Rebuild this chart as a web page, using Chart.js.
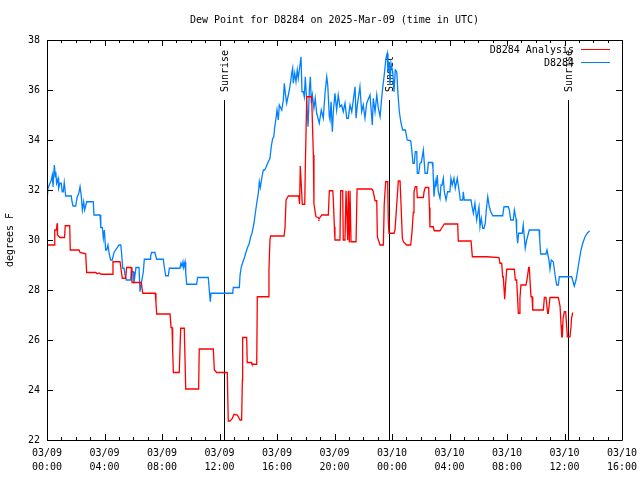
<!DOCTYPE html>
<html>
<head>
<meta charset="utf-8">
<title>Dew Point for D8284</title>
<script src="https://cdn.jsdelivr.net/npm/chart.js@4.4.1/dist/chart.umd.min.js"></script>
<style>
  body { margin: 0; background: #fff; }
  canvas { display: block; }
</style>
</head>
<body>
<canvas id="dew" width="640" height="480"></canvas>
<script>
// hours since 2025-03-09 00:00 UTC
var analysisHours = [0,0.49,0.54,0.66,0.70,0.73,0.90,1.22,1.27,1.58,1.62,2.23,2.30,2.69,2.76,3.39,3.48,3.62,3.78,4.54,4.59,5.08,5.15,5.24,5.47,5.54,5.86,5.91,6.56,6.66,7.53,7.58,7.63,8.56,8.63,8.70,8.74,8.79,9.20,9.30,9.55,9.65,10.55,10.59,11.57,11.64,11.81,12.54,12.61,12.73,12.87,13.01,13.24,13.43,13.54,13.59,13.61,13.89,13.93,14.21,14.26,14.59,14.63,15.40,15.44,15.51,15.56,16.49,16.56,16.63,16.79,17.51,17.57,17.62,17.69,17.76,17.93,17.97,18.07,18.41,18.53,18.57,18.71,18.87,18.92,19.11,19.57,19.64,19.88,19.92,19.99,20.03,20.38,20.43,20.57,20.61,20.73,20.80,20.85,20.92,20.96,21.03,21.08,21.15,21.50,21.57,22.59,22.68,22.82,22.94,22.98,23.17,23.40,23.46,23.56,23.70,23.74,23.79,24.14,24.21,24.44,24.56,24.63,24.72,24.79,25.02,25.30,25.39,25.48,25.53,25.62,25.72,25.76,26.18,26.23,26.32,26.55,26.60,26.64,26.87,26.94,27.34,27.48,27.64,28.57,28.61,29.50,29.59,30.59,31.44,31.51,31.63,31.70,31.74,31.84,31.90,31.98,32.51,32.58,32.67,32.79,32.86,32.90,32.97,33.32,33.39,33.51,33.55,33.60,33.67,33.74,33.79,34.53,34.60,34.71,34.83,34.87,34.99,35.57,35.69,35.76,35.81,35.85,35.90,35.99,36.08,36.20,36.38,36.45,36.49,36.57];
var analysisDew = [29.8,29.8,30.4,30.4,30.67,30.2,30.1,30.1,30.57,30.57,29.6,29.6,29.5,29.45,28.7,28.7,28.65,28.68,28.63,28.63,29.13,29.13,28.84,28.47,28.47,28.9,28.9,28.3,28.3,27.87,27.87,27.5,27.04,27.04,26.5,26.5,25.6,24.7,24.7,26.47,26.47,24.04,24.04,25.64,25.64,24.8,24.7,24.7,22.76,22.76,22.84,23.03,23.0,22.8,22.8,24.4,26.1,26.1,25.1,25.1,25.03,25.03,27.73,27.73,28.8,30.0,30.16,30.16,30.5,31.6,31.76,31.76,31.44,32.96,32.2,31.43,31.43,32.93,35.73,35.73,33.4,31.44,30.93,30.9,30.84,31.0,31.0,31.97,31.97,31.6,30.53,30.0,30.0,31.97,31.97,30.0,30.0,31.97,31.97,30.0,31.97,29.9,31.97,29.93,29.93,32.04,32.04,31.97,31.57,31.57,30.13,29.8,29.8,31.43,32.33,32.33,30.8,30.27,30.27,30.4,32.36,32.36,31.4,30.07,29.93,29.8,29.8,30.3,31.1,31.93,32.13,32.13,31.7,31.7,31.93,32.1,32.1,31.3,30.53,30.53,30.37,30.37,30.5,30.64,30.64,29.96,29.96,29.33,29.33,29.3,29.07,29.07,28.53,28.53,27.63,28.2,28.83,28.83,28.4,28.4,27.07,27.07,27.67,28.2,28.2,28.4,28.9,28.9,28.4,27.73,27.73,27.2,27.2,27.7,27.7,27.07,27.07,27.7,27.7,27.36,26.6,26.13,26.13,26.87,27.13,27.13,26.13,26.13,26.5,26.87,27.1];

var stationHours = [0.02,0.07,0.21,0.30,0.37,0.42,0.51,0.58,0.61,0.67,0.77,0.81,0.90,0.99,1.06,1.13,1.20,1.30,1.69,1.74,1.81,2.00,2.04,2.11,2.21,2.30,2.34,2.39,2.46,2.55,2.62,2.76,3.22,3.27,3.69,3.74,3.85,3.92,3.99,4.08,4.15,4.24,4.33,4.43,4.54,4.66,5.01,5.13,5.17,5.27,5.36,5.43,5.52,5.82,5.86,6.00,6.05,6.19,6.40,6.47,6.56,6.70,6.77,7.17,7.21,7.28,7.51,7.56,7.63,8.09,8.14,8.26,8.44,8.51,9.25,9.32,9.39,9.46,9.51,9.60,9.65,9.72,10.41,10.48,11.22,11.29,11.36,11.41,12.92,12.96,13.38,13.43,13.52,13.75,13.93,14.07,14.17,14.26,14.40,14.49,14.59,14.70,14.77,14.84,14.94,15.05,15.14,15.23,15.35,15.51,15.60,15.70,15.77,15.84,15.93,16.00,16.09,16.16,16.33,16.44,16.51,16.58,16.67,16.79,16.86,16.95,17.02,17.09,17.13,17.23,17.32,17.41,17.48,17.67,17.74,17.83,17.90,17.97,18.07,18.16,18.25,18.32,18.39,18.46,18.57,18.66,18.76,18.94,19.08,19.22,19.34,19.46,19.53,19.64,19.69,19.76,19.85,19.92,20.03,20.15,20.26,20.38,20.50,20.61,20.73,20.85,20.96,21.08,21.20,21.43,21.50,21.59,21.77,21.89,22.00,22.12,22.24,22.47,22.63,22.70,22.82,22.94,23.05,23.17,23.28,23.35,23.46,23.58,23.67,23.72,23.79,23.86,23.93,24.05,24.14,24.23,24.33,24.42,24.51,24.61,24.74,24.93,25.06,25.30,25.39,25.46,25.55,25.62,25.72,25.76,25.86,25.95,26.04,26.18,26.30,26.46,26.53,26.80,26.85,26.92,27.01,27.06,27.15,27.22,27.34,27.41,27.48,27.57,27.64,27.76,27.87,28.03,28.10,28.19,28.31,28.40,28.54,28.68,28.75,28.92,28.96,29.03,29.50,29.57,29.66,29.77,29.89,30.05,30.12,30.21,30.31,30.40,30.49,30.56,30.66,30.77,30.87,31.01,31.70,31.79,32.09,32.16,32.26,32.44,32.51,32.63,32.67,32.74,32.81,33.06,33.13,33.27,33.37,33.55,34.23,34.27,34.34,34.71,34.78,34.85,34.92,34.99,35.08,35.22,35.36,35.46,35.57,35.64,36.50,36.68,36.80,36.92,37.03,37.15,37.27,37.43,37.61,37.75];
var stationDew = [31.73,32.07,32.27,32.4,32.6,32.13,33.0,32.53,32.73,32.27,32.47,32.07,32.27,32.27,31.93,31.93,32.3,31.76,31.76,31.53,31.36,31.36,31.53,31.73,31.87,32.13,32.13,31.73,31.2,31.53,31.2,31.53,31.53,31.0,31.0,30.5,30.5,30.07,30.4,29.6,29.6,29.8,29.44,29.2,29.2,29.5,29.8,29.8,29.6,28.87,28.87,28.6,28.4,28.4,28.73,28.73,28.27,28.9,28.9,27.93,28.27,28.73,29.23,29.23,29.37,29.5,29.5,29.37,29.23,29.23,29.0,28.57,28.57,28.87,28.87,29.07,28.95,29.13,28.9,29.13,28.7,28.23,28.23,28.5,28.5,28.0,27.53,27.87,27.87,28.1,28.1,28.6,28.93,29.33,29.67,29.87,30.13,30.27,30.67,31.07,31.47,31.87,32.33,32.1,32.47,32.8,32.8,32.9,33.07,33.27,33.73,34.07,34.1,34.5,34.87,35.2,34.8,35.4,35.2,35.6,36.27,35.87,35.47,35.8,36.0,36.33,36.67,36.87,36.27,36.67,36.33,36.8,36.47,37.33,35.93,35.93,35.73,36.53,35.53,34.53,36.0,36.53,35.47,35.8,35.27,35.67,35.07,34.67,35.2,34.87,35.87,36.53,36.2,34.93,34.8,35.53,34.33,35.13,35.87,35.2,35.8,35.33,35.4,35.13,35.47,34.87,34.87,35.4,35.13,36.13,34.87,35.4,36.13,35.13,35.4,34.87,35.47,35.8,34.6,35.67,35.13,35.8,35.27,34.93,35.67,36.07,36.6,37.27,37.47,36.73,37.13,36.2,37.07,36.73,35.93,36.8,36.73,35.8,35.13,34.73,34.4,34.4,34.0,33.97,33.53,33.07,33.07,33.53,33.53,32.67,32.67,33.07,33.1,33.6,32.67,32.67,33.1,33.1,32.87,31.73,32.33,32.13,32.6,31.93,31.67,32.2,32.2,32.47,31.93,31.6,31.93,31.93,32.47,32.2,32.47,32.07,32.47,31.93,31.6,31.6,31.93,31.6,31.6,31.33,31.07,31.47,30.8,31.33,30.53,30.87,30.47,30.47,30.67,31.2,31.73,31.33,31.13,30.97,30.97,31.33,31.33,31.2,30.8,30.8,31.2,30.83,30.33,29.87,30.27,30.27,30.6,29.67,30.0,30.4,30.4,30.07,29.44,29.44,29.6,29.4,29.2,28.83,29.2,29.13,28.53,28.2,28.2,28.53,28.53,28.16,28.4,28.8,29.2,29.6,29.87,30.13,30.29,30.36];

var sunHours = [12.31, 23.79, 36.24];
var sunLabels = ['Sunrise', 'Sunset', 'Sunrise'];

var seriesNames = ['D8284 Analysis', 'D8284'];
var seriesColors = ['#ff0000', '#0080ff'];

var FONT = '10px "DejaVu Sans Mono", "Liberation Mono", monospace';

function toPoints(xs, ys) {
	var pts = [];
	for (var i = 0; i < xs.length; i++) pts.push({x: xs[i], y: ys[i]});
	return pts;
}

function fmtTime(h) {
	var day = 9 + Math.floor(h / 24);
	var hh = h % 24;
	return ['03/' + String(day).padStart(2, '0'), String(hh).padStart(2, '0') + ':00'];
}

// gnuplot look: border, inward ticks, sun markers, legend, title
var gnuplotDecor = {
	id: 'gnuplotDecor',
	beforeDatasetsDraw: function(chart) {
		var ctx = chart.ctx, a = chart.chartArea, xs = chart.scales.x;
		ctx.save();
		ctx.strokeStyle = '#000';
		ctx.fillStyle = '#000';
		ctx.lineWidth = 1;
		ctx.font = FONT;
		for (var i = 0; i < sunHours.length; i++) {
			var px = Math.round(xs.getPixelForValue(sunHours[i])) + 0.5;
			ctx.beginPath();
			ctx.moveTo(px, a.top + 60);
			ctx.lineTo(px, a.bottom);
			ctx.stroke();
			ctx.save();
			ctx.translate(px + 1, a.top + 52);
			ctx.rotate(-Math.PI / 2);
			ctx.textAlign = 'left';
			ctx.textBaseline = 'middle';
			ctx.fillText(sunLabels[i], 0, 0);
			ctx.restore();
		}
		ctx.restore();
	},
	afterDatasetsDraw: function(chart) {
		var ctx = chart.ctx, a = chart.chartArea;
		var xs = chart.scales.x, ys = chart.scales.y;
		ctx.save();
		ctx.strokeStyle = '#000';
		ctx.lineWidth = 1;
		ctx.beginPath();
		ctx.rect(Math.round(a.left) + 0.5, Math.round(a.top) + 0.5, Math.round(a.right - a.left), Math.round(a.bottom - a.top));
		ctx.stroke();

		ctx.beginPath();
		for (var h = 0; h <= 40; h++) {
			var px = Math.round(xs.getPixelForValue(h)) + 0.5;
			var len = (h % 4 === 0) ? 6 : 3;
			ctx.moveTo(px, a.bottom); ctx.lineTo(px, a.bottom - len);
			ctx.moveTo(px, a.top); ctx.lineTo(px, a.top + len);
		}
		for (var v = 22; v <= 38; v += 2) {
			var py = Math.round(ys.getPixelForValue(v)) + 0.5;
			ctx.moveTo(a.left, py); ctx.lineTo(a.left + 6, py);
			ctx.moveTo(a.right, py); ctx.lineTo(a.right - 6, py);
		}
		ctx.stroke();

		// legend
		ctx.font = FONT;
		ctx.textAlign = 'right';
		ctx.textBaseline = 'middle';
		for (var i = 0; i < seriesNames.length; i++) {
			var ly = a.top + 10 + i * 13;
			ctx.fillStyle = '#000';
			ctx.fillText(seriesNames[i], a.right - 48, ly);
			ctx.strokeStyle = seriesColors[i];
			ctx.beginPath();
			ctx.moveTo(a.right - 41, ly - 0.5);
			ctx.lineTo(a.right - 12, ly - 0.5);
			ctx.stroke();
		}

		// title
		ctx.fillStyle = '#000';
		ctx.textAlign = 'center';
		ctx.fillText('Dew Point for D8284 on 2025-Mar-09 (time in UTC)', (a.left + a.right) / 2, 20);

		// y axis title
		ctx.save();
		ctx.translate(10, (a.top + a.bottom) / 2);
		ctx.rotate(-Math.PI / 2);
		ctx.fillText('degrees F', 0, 0);
		ctx.restore();
		ctx.restore();
	}
};

var ctx = document.getElementById('dew');
var chart = new Chart(ctx, {
	type: 'line',
	data: {
		datasets: [{
			label: seriesNames[0],
			data: toPoints(analysisHours, analysisDew),
			borderColor: seriesColors[0],
			borderWidth: 1.3,
			pointRadius: 0,
			tension: 0,
			fill: false
		}, {
			label: seriesNames[1],
			data: toPoints(stationHours, stationDew),
			borderColor: seriesColors[1],
			borderWidth: 1.3,
			pointRadius: 0,
			tension: 0,
			fill: false
		}]
	},
	options: {
		responsive: false,
		animation: false,
		layout: { padding: { top: 40, right: 18, left: 0, bottom: 0 } },
		plugins: {
			legend: { display: false },
			tooltip: { enabled: false },
			title: { display: false }
		},
		scales: {
			x: {
				type: 'linear',
				min: 0,
				max: 40,
				grid: { display: false, drawTicks: false },
				border: { display: false },
				ticks: {
					stepSize: 4,
					autoSkip: false,
					maxRotation: 0,
					padding: 6,
					color: '#000',
					font: { family: '"DejaVu Sans Mono", "Liberation Mono", monospace', size: 10, lineHeight: 1.4 },
					callback: function(value) { return fmtTime(value); }
				},
				afterFit: function(scale) {
					scale.height = 40;
					scale.paddingLeft = 0;
					scale.paddingRight = 0;
				}
			},
			y: {
				min: 22,
				max: 38,
				grid: { display: false, drawTicks: false },
				border: { display: false },
				ticks: {
					stepSize: 2,
					padding: 7,
					color: '#000',
					font: { family: '"DejaVu Sans Mono", "Liberation Mono", monospace', size: 10 }
				},
				afterFit: function(scale) { scale.width = 47; }
			}
		}
	},
	plugins: [gnuplotDecor]
});
</script>
</body>
</html>
